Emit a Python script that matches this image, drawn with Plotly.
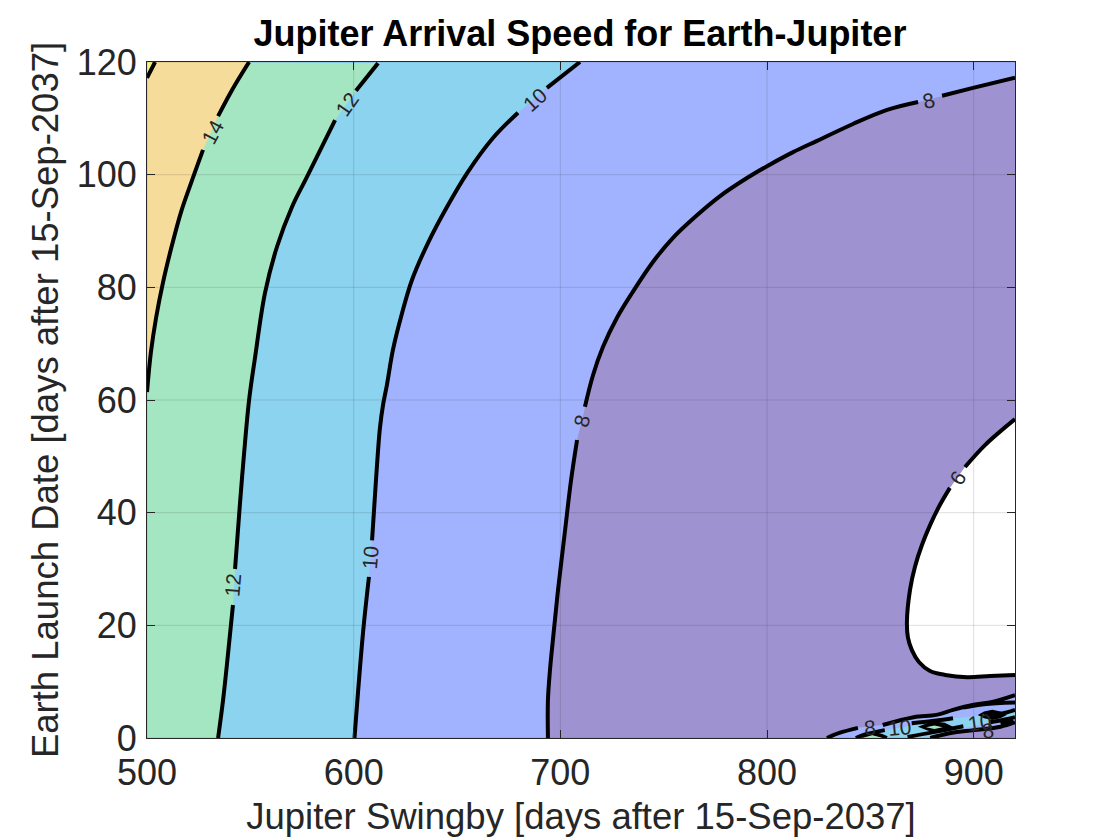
import plotly.graph_objects as go

title_text = "Jupiter Arrival Speed for Earth-Jupiter"
x_label = "Jupiter Swingby [days after 15-Sep-2037]"
y_label = "Earth Launch Date [days after 15-Sep-2037]"
x_ticks = [500, 600, 700, 800, 900]
y_ticks = [0, 20, 40, 60, 80, 100, 120]

YELLOW = "#f7f27f"
SAND = "#f5dc9b"
MINT = "#a4e6c2"
SKY = "#8cd3ef"
PERI = "#a1b3ff"
PURPLE = "#9e92d1"

c16_x = [500, 503.9]
c16_y = [117.2, 120]

c14_x = [500, 501.9, 504.4, 507.7, 512.1, 516.5, 521.3, 527.1, None, 534.4, 541.1, 549.4]
c14_y = [61.4, 68.5, 74.6, 80.8, 87.5, 93.4, 98.5, 104.4, None, 110.4, 115, 120]

c12_x = [534.4, 536.8, 539.2, 541.6, None, 542.6, 545, 546.9, 549.4, 552.3, 557.1, 562.9, 570.2, 577.4, 591, None, 601.1, 611.8]
c12_y = [0, 6.7, 14.9, 23.6, None, 30, 41.7, 50.2, 60, 67.6, 79, 87.2, 94.3, 99.6, 109.7, None, 114.9, 119.8]

c10_x = [600.4, 604.5, 607.4, None, 608.9, 610.8, 612.7, 614.2, 616.1, 619, 623.4, 628.2, 636, 645.2, 655.3, 667.4, 679.5, None, 693.5, 709.5]
c10_y = [0, 18.6, 28.6, None, 35.1, 45.8, 55, 59.1, 62.7, 68.9, 75.4, 81.3, 87.9, 94.3, 100.5, 106.5, 111, None, 115.4, 120]

c8_x = [694, 694, 695, 696.4, 698.9, 702.3, 705.2, 708.1, None, 711.9, 715.8, 720.6, 727.4, 734.7, 744.8, 754.5, 766.1, 777.3, 790.3, 800, 812.6, 824.2, 841.6, 858.1, 873.1, None, 884.7, 899.7, 920]
c8_y = [0, 6.7, 12.1, 17.4, 26.3, 36.9, 45.8, 52.9, None, 58.8, 64.4, 69.4, 74.6, 79, 84.5, 88.8, 92.8, 96.2, 99.4, 101.5, 104, 106, 109, 111.5, 112.9, None, 114, 115.4, 117.2]

c6_x = [920, 905.5, 895.8, None, 888.5, 883.7, 878.9, 875, 871.6, 869.2, 867.7, 868.2, 870.1, 873.5, 878.9, 886.2, 896.8, 907.9, 920]
c6_y = [56.6, 52, 48.1, None, 44.4, 41.4, 37.8, 34.3, 30.4, 26.3, 20.6, 17.8, 15.6, 13.5, 11.9, 11.2, 10.8, 11, 11.2]

# bottom-right strip
s8_x = [829, 835, 844, None, 856, 871, 882, 890, 900, 909, 920]
s8_y = [0, 0.9, 1.8, None, 2.3, 3.7, 4.1, 5, 5.9, 6.4, 7.6]
s_low_x = [920, 913, 900, 889, 879]
s_low_y = [2.8, 2, 1.4, 0.9, 0]
sky_up_x = [846, 856, 866, 875, 890, 902, 913, 920]
sky_up_y = [0, 1.4, 1.9, 2.7, 3.5, 3.9, 3.9, 5]
sky_low_x = [920, 913, 902, 890, 877]
sky_low_y = [3.7, 2.9, 2.3, 1.2, 0]
lens1_x = [873, 878, 882, 886, 890, 886, 882, 878, 873]
lens1_y = [2.0, 2.7, 2.9, 2.7, 2.0, 1.3, 1.1, 1.3, 2.0]
core1_x = [877, 881, 885, 881, 877]
core1_y = [1.9, 2.2, 1.9, 1.6, 1.9]
lens2_x = [902, 905, 909, 913, 916, 913, 909, 905, 902]
lens2_y = [4.1, 4.7, 5, 4.7, 4.1, 3.5, 3.2, 3.5, 4.1]
core2_x = [904, 907, 911, 907, 904]
core2_y = [4.1, 4.4, 4.1, 3.8, 4.1]
core3_x = [846, 851, 856, 846]
core3_y = [0, 0.5, 0, 0]
s10a_x = [895, 905, 920]
s10a_y = [5.4, 6, 6.3]
s10b_x = [905, 913, 920]
s10b_y = [4.1, 4.3, 5]
s10c_x = [846, 851, 857]
s10c_y = [0, 0.9, 1.4]
s10d_x = [868, 880, 895]
s10d_y = [0.2, 1.0, 2.1]
s10e_x = [908, 914, 920]
s10e_y = [2.8, 3.2, 3.7]
s10f_x = [913, 919]
s10f_y = [2.6, 3.2]
s10g_x = [870, 880, 890]
s10g_y = [2.6, 3.0, 3.5]
s10h_x = [843, 850, 858]
s10h_y = [0, 0.8, 0]

label_text = ["14", "12", "12", "10", "10", "8", "8", "6", "8", "10", "10", "8"]
label_x = [532, 541.6, 596.8, 607.9, 687.7, 710.5, 878.4, 892.4, 849.8, 864.3, 902.6, 906.9]
label_y = [107.6, 27.2, 112.4, 32.1, 113.4, 56.3, 113.1, 46.2, 1.8, 1.8, 2.7, 1.4]
label_angle = [-62, -85, -55, -85, -42, -75, -15, -58, -5, -5, -8, -8]


def solid(v):
    return [p for p in v if p is not None]


def area(xs, ys, color):
    return go.Scatter(x=xs, y=ys, mode="lines", fill="toself", fillcolor=color,
                      line=dict(width=0), hoverinfo="skip", showlegend=False)


def edge(xs, ys):
    return go.Scatter(x=xs, y=ys, mode="lines", line=dict(color="black", width=4, shape="spline", smoothing=1.0),
                      hoverinfo="skip", showlegend=False, connectgaps=False)


fig = go.Figure()
xa, xb = 500, 920
ya, yb = 0, 120
fig.add_trace(area([xa, xb, xb, xa, xa], [ya, ya, yb, yb, ya], PURPLE))
fig.add_trace(area(solid(c8_x) + [xb, xa, xa], solid(c8_y) + [yb, yb, ya], PERI))
fig.add_trace(area(solid(c10_x) + [xa, xa], solid(c10_y) + [yb, ya], SKY))
fig.add_trace(area(solid(c12_x) + [xa, xa], solid(c12_y) + [yb, ya], MINT))
fig.add_trace(area(solid(c14_x) + [xa], solid(c14_y) + [yb], SAND))
fig.add_trace(area(c16_x + [xa], c16_y + [yb], YELLOW))
fig.add_trace(area(solid(c6_x), solid(c6_y), "white"))
fig.add_trace(area(solid(s8_x) + s_low_x + [829], solid(s8_y) + s_low_y + [0], PERI))
fig.add_trace(area(sky_up_x + sky_low_x + [846], sky_up_y + sky_low_y + [0], SKY))
fig.add_trace(area(lens1_x, lens1_y, "black"))
fig.add_trace(area(lens2_x, lens2_y, "black"))
fig.add_trace(area(core1_x, core1_y, MINT))
fig.add_trace(area(core2_x, core2_y, MINT))
for cx, cy in [(c16_x, c16_y), (c14_x, c14_y), (c12_x, c12_y), (c10_x, c10_y), (c8_x, c8_y), (c6_x, c6_y), (s8_x, s8_y),
               (s10a_x, s10a_y), (s10b_x, s10b_y), (s10c_x, s10c_y), (s10d_x, s10d_y), (s10e_x, s10e_y), (s10f_x, s10f_y),
               (s10g_x, s10g_y), (s10h_x, s10h_y), (s_low_x, s_low_y)]:
    fig.add_trace(edge(cx, cy))
fig.add_trace(area(core3_x, core3_y, MINT))

grid = "rgba(38,38,38,0.15)"
for v in x_ticks:
    fig.add_shape(type="line", x0=v, x1=v, y0=ya, y1=yb, line=dict(color=grid, width=1), layer="above")
for v in y_ticks:
    fig.add_shape(type="line", x0=xa, x1=xb, y0=v, y1=v, line=dict(color=grid, width=1), layer="above")

for t, lx, ly, ang in zip(label_text, label_x, label_y, label_angle):
    fig.add_annotation(x=lx, y=ly, text=t, textangle=ang, showarrow=False,
                       font=dict(family="Liberation Sans", size=21, color="#262626"))

axis = dict(showgrid=False, zeroline=False, ticks="inside", ticklen=8, tickwidth=1, tickcolor="#262626",
            showline=True, linecolor="#262626", linewidth=1, mirror="ticks", automargin=False,
            tickfont=dict(family="Liberation Sans", size=36, color="#262626"))
fig.update_layout(
    width=1112, height=832, autosize=False, paper_bgcolor="white", plot_bgcolor="white",
    margin=dict(l=139, r=105, t=54, b=102, autoexpand=False),
    showlegend=False,
    title=dict(text="<b>" + title_text + "</b>", x=572 / 1112, xanchor="center", y=0.97, yanchor="middle",
               font=dict(family="Liberation Sans", size=36, color="black")),
    xaxis=dict(axis, range=[xa, xb], tickvals=x_ticks, ticklabelstandoff=3,
               title=dict(text=x_label, standoff=11, font=dict(family="Liberation Sans", size=36.5, color="#262626"))),
    yaxis=dict(axis, range=[ya, yb], tickvals=y_ticks, ticklabelstandoff=2,
               title=dict(text=y_label, standoff=6, font=dict(family="Liberation Sans", size=36.5, color="#262626"))),
)
fig.write_html("out.html")
